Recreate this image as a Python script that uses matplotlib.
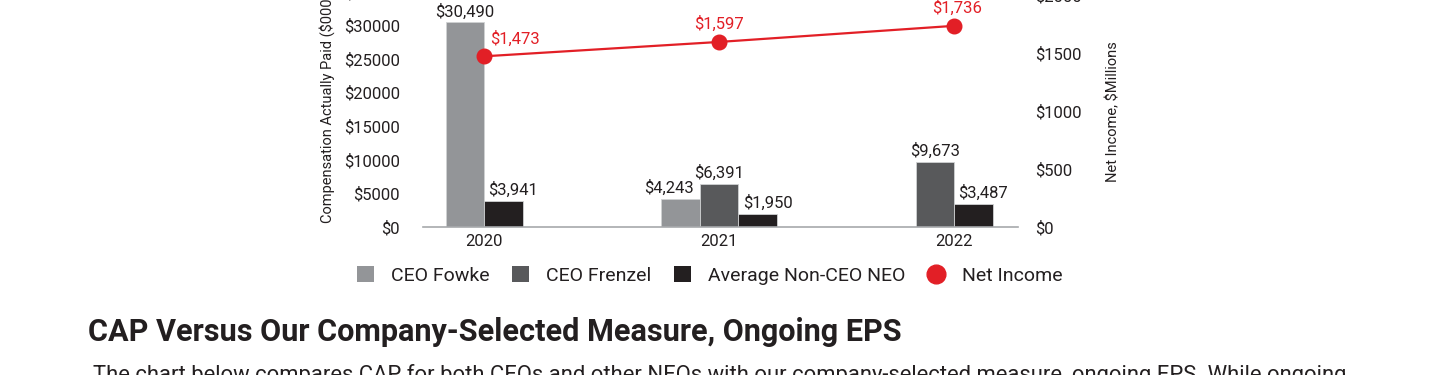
import numpy as np
import matplotlib.pyplot as plt
from matplotlib.patches import Patch
from matplotlib.lines import Line2D

years = ['2020', '2021', '2022']
ceo_fowke = [30490, 4243, None]
ceo_frenzel = [None, 6391, 9673]
non_ceo_neo = [3941, 1950, 3487]
net_income = [1473, 1597, 1736]

series_names = ['CEO Fowke', 'CEO Frenzel', 'Average Non-CEO NEO']
cap_ticks = [0, 5000, 10000, 15000, 20000, 25000, 30000, 35000]
income_ticks = [0, 500, 1000, 1500, 2000]

heading = 'CAP Versus Our Company-Selected Measure, Ongoing EPS'
body = ('The chart below compares CAP for both CEOs and other NEOs with our '
        'company-selected measure, ongoing EPS. While ongoing')

plt.rcParams['font.family'] = ['Roboto', 'DejaVu Sans']
W, H = 1440, 375
txt = '#231f20'
colors = ['#939598', '#58595b', '#231f20']
red = '#e21f26'

fig = plt.figure(figsize=(W / 100, H / 100), dpi=100)
ax = fig.add_axes([423 / W, 1 - 227 / H, 595 / W, 235 / H])
ax2 = ax.twinx()

x = np.arange(len(years))
w = 0.164
series = [ceo_fowke, ceo_frenzel, non_ceo_neo]
positions = [[] for _ in series]
values = [[] for _ in series]
group_size = []
for i in range(len(years)):
    present = [s for s in range(len(series)) if series[s][i] is not None]
    n = len(present)
    for k, s in enumerate(present):
        positions[s].append(x[i] + (k - (n - 1) / 2) * w)
        values[s].append(series[s][i])
    group_size.append(n)

for s in range(len(series)):
    ax.bar(positions[s], values[s], w, color=colors[s], edgecolor='#d0d2d3',
           linewidth=0.6, zorder=2)
    for p, v in zip(positions[s], values[s]):
        # nudge labels sideways so neighbours don't collide
        dx = 0
        if s == 2:
            dx = 10
        if s == 0 and group_size[int(round(p))] == 3:
            dx = -12
        ax.annotate(f'${v:,}', (p, v), xytext=(dx * 0.72, 2), textcoords='offset points',
                    ha='center', va='bottom', fontsize=12, color=txt)

ax2.plot(x, net_income, color=red, lw=1.6, marker='o', ms=10.5, zorder=3)
label_dx = [31, 0, 3]
for i, v in enumerate(net_income):
    ax2.annotate(f'${v:,}', (x[i], v), xytext=(label_dx[i] * 0.72, 18 * 0.72),
                 textcoords='offset points', ha='center', va='center',
                 fontsize=12, color=red)

ax.set_xlim(-0.26, 2.272)
ax.set_ylim(0, 35000)
ax2.set_ylim(0, 2028)
ax.set_xticks(x, years)
ax.set_yticks(cap_ticks, [f'${t}' for t in cap_ticks])
ax2.set_yticks(income_ticks, [f'${t}' for t in income_ticks])
ax.tick_params(axis='x', length=0, pad=5, labelsize=12, colors=txt)
ax.tick_params(axis='y', length=0, pad=16.5, labelsize=12, colors=txt)
ax2.tick_params(axis='y', length=0, pad=12, labelsize=12, colors=txt)

for sp in ['top', 'left', 'right']:
    ax.spines[sp].set_visible(False)
    ax2.spines[sp].set_visible(False)
ax2.spines['bottom'].set_visible(False)
ax.spines['bottom'].set_color('#a7a9ac')
ax.spines['bottom'].set_linewidth(1.2)

fig.text(327 / W, 1 - 104 / H, 'Compensation Actually Paid ($000s)', rotation=90,
         ha='center', va='center', fontsize=10.5, color=txt)
fig.text(1113 / W, 1 - 112 / H, 'Net Income, $Millions', rotation=90,
         ha='center', va='center', fontsize=10.5, color=txt)

handles = [Patch(facecolor=c) for c in colors]
handles.append(Line2D([], [], linestyle='none', marker='o', markersize=13.5,
                      markerfacecolor=red, markeredgecolor=red))
leg = fig.legend(handles, series_names + ['Net Income'], loc='center',
                 bbox_to_anchor=(709.5 / W, 1 - 275.5 / H), ncol=4, frameon=False,
                 fontsize=14, handlelength=0.88, handleheight=0.88,
                 handletextpad=0.88, columnspacing=1.15)
for t in leg.get_texts():
    t.set_color(txt)

fig.text(88 / W, 1 - 341 / H, heading, fontsize=22.1, fontweight='bold',
         color=txt, va='baseline', ha='left')
fig.text(93 / W, 1 - 364 / H, body, fontsize=15.8, color=txt, va='top', ha='left')

fig.savefig('out.png', dpi=100, facecolor='white')
